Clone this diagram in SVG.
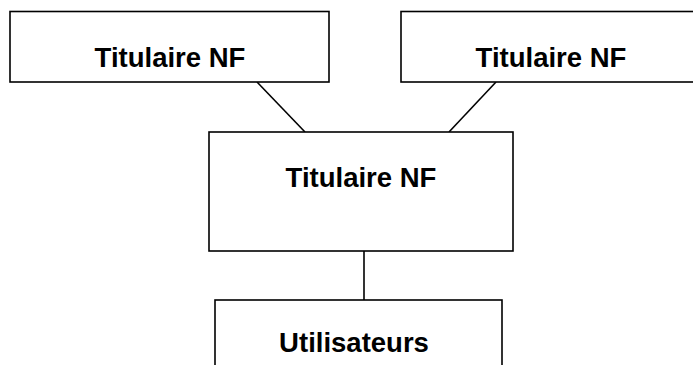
<svg xmlns="http://www.w3.org/2000/svg" width="693" height="365" viewBox="0 0 693 365">
<style>
.box{fill:#fff;stroke:#000;stroke-width:1.6}
.lbl{font-family:"Liberation Sans",Arial,sans-serif;font-weight:bold;font-size:27.5px;fill:#000;text-anchor:middle}
.conn{stroke:#000;stroke-width:1.6;fill:none}
</style>
<rect width="693" height="365" fill="#fff"/>
<g id="connectors">
<line class="conn" x1="257" y1="82" x2="305" y2="132"/>
<line class="conn" x1="496" y1="82" x2="449" y2="132"/>
<line class="conn" x1="364" y1="251" x2="364" y2="300"/>
</g>
<g id="n1"><rect class="box" x="10" y="11.5" width="319" height="70.5"/><text class="lbl" x="170" y="67">Titulaire NF</text></g>
<g id="n2"><rect class="box" x="401" y="11.5" width="300" height="70.5"/><text class="lbl" x="551" y="67">Titulaire NF</text></g>
<g id="n3"><rect class="box" x="209" y="132" width="304" height="119"/><text class="lbl" x="361" y="187">Titulaire NF</text></g>
<g id="n4"><rect class="box" x="215" y="300" width="287" height="80"/><text class="lbl" x="354" y="352">Utilisateurs</text></g>
</svg>
